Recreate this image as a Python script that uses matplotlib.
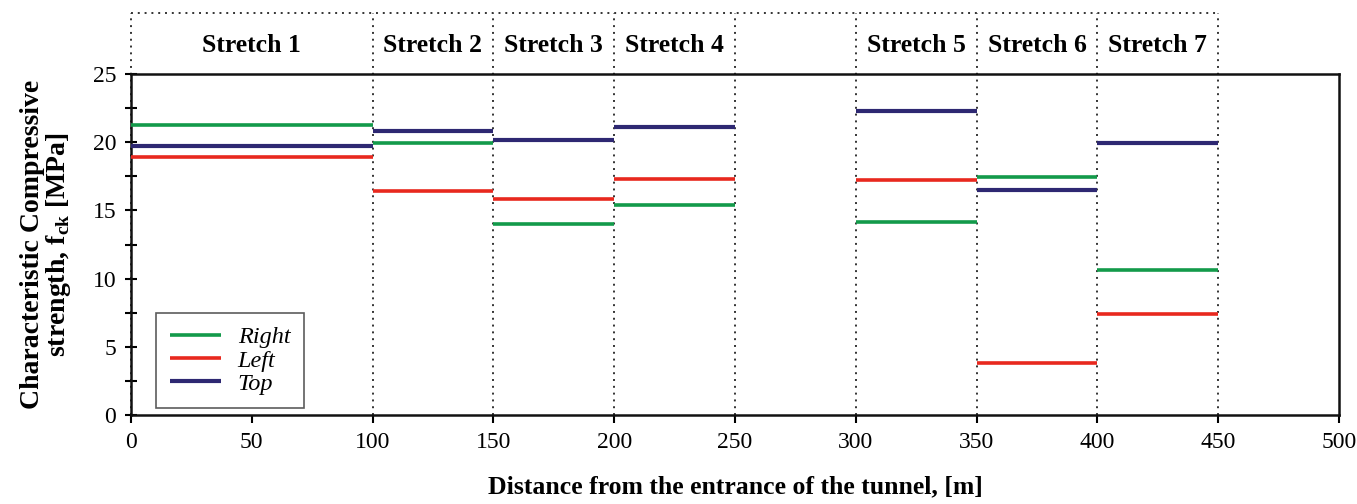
import matplotlib
matplotlib.use("Agg")
import matplotlib.pyplot as plt
import matplotlib.transforms as mtransforms
from matplotlib.ticker import MultipleLocator

# Data
stretch_names = ["Stretch 1", "Stretch 2", "Stretch 3", "Stretch 4", "Stretch 5", "Stretch 6", "Stretch 7"]
stretch_start = [0, 100, 150, 200, 300, 350, 400]
stretch_end = [100, 150, 200, 250, 350, 400, 450]
right_vals = [21.3, 19.95, 14.0, 15.4, 14.15, 17.45, 10.65]
left_vals = [18.9, 16.45, 15.85, 17.3, 17.2, 3.8, 7.4]
top_vals = [19.75, 20.8, 20.2, 21.1, 22.3, 16.5, 19.95]
boundaries = [0, 100, 150, 200, 250, 300, 350, 400, 450]

plt.rcParams['font.family'] = ['Liberation Serif', 'DejaVu Serif']
plt.rcParams['mathtext.fontset'] = 'custom'
plt.rcParams['mathtext.rm'] = 'Liberation Serif'
plt.rcParams['mathtext.bf'] = 'Liberation Serif:bold'

fig = plt.figure(figsize=(13.57, 5.04), dpi=100)
ax = fig.add_axes([0.0965, 0.1766, 0.8902, 0.6764])

c_right = '#139a4a'
c_left = '#e8281e'
c_top = '#2e2872'
lw = 2.6

for i in range(len(stretch_names)):
    xs = [stretch_start[i], stretch_end[i]]
    ax.plot(xs, [right_vals[i]] * 2, color=c_right, lw=lw, solid_capstyle='butt',
            label='Right' if i == 0 else None, zorder=3)
    ax.plot(xs, [left_vals[i]] * 2, color=c_left, lw=lw, solid_capstyle='butt',
            label='Left' if i == 0 else None, zorder=3)
    ax.plot(xs, [top_vals[i]] * 2, color=c_top, lw=lw + 0.4, solid_capstyle='butt',
            label='Top' if i == 0 else None, zorder=3)

ax.set_xlim(0, 500)
ax.set_ylim(0, 25)

# dotted stretch boundaries extending above axes
trans = mtransforms.blended_transform_factory(ax.transData, ax.transAxes)
top_y = 1.18
dots = (0, (1, 2.5))
for b in boundaries:
    ax.plot([b, b], [0, top_y], transform=trans, ls=dots, color='#333333',
            lw=1.4, clip_on=False, zorder=1)
ax.plot([boundaries[0], boundaries[-1]], [top_y, top_y], transform=trans,
        ls=dots, color='#333333', lw=1.4, clip_on=False, zorder=1)

for i, name in enumerate(stretch_names):
    ax.text((stretch_start[i] + stretch_end[i]) / 2, 1.085, name, transform=trans,
            ha='center', va='center', fontsize=18.5, fontweight='bold')

ax.xaxis.set_major_locator(MultipleLocator(50))
ax.yaxis.set_major_locator(MultipleLocator(5))
ax.yaxis.set_minor_locator(MultipleLocator(2.5))
ax.tick_params(axis='y', which='both', direction='inout', length=9, width=1.5, labelsize=17, pad=6)
ax.tick_params(axis='x', which='major', direction='out', length=6, width=1.5, labelsize=17, pad=6)

for s in ax.spines.values():
    s.set_linewidth(1.8)
    s.set_color('#111111')

ax.set_xlabel('Distance from the entrance of the tunnel, [m]', fontsize=18.5,
              fontweight='bold', labelpad=16)
ax.set_ylabel('Characteristic Compressive\nstrength, f$_{\\mathbf{ck}}$ [MPa]', fontsize=20,
              fontweight='bold', labelpad=14, linespacing=0.95)

leg = ax.legend(loc='lower left', bbox_to_anchor=(0.021, 0.02), borderaxespad=0.0,
                frameon=True, fancybox=False,
                edgecolor='#333333', prop={'style': 'italic', 'size': 17.5},
                handlelength=2.1, labelspacing=0.05, borderpad=0.55, handletextpad=0.7)
leg.get_frame().set_linewidth(1.2)

fig.savefig('out.png', dpi=100)
